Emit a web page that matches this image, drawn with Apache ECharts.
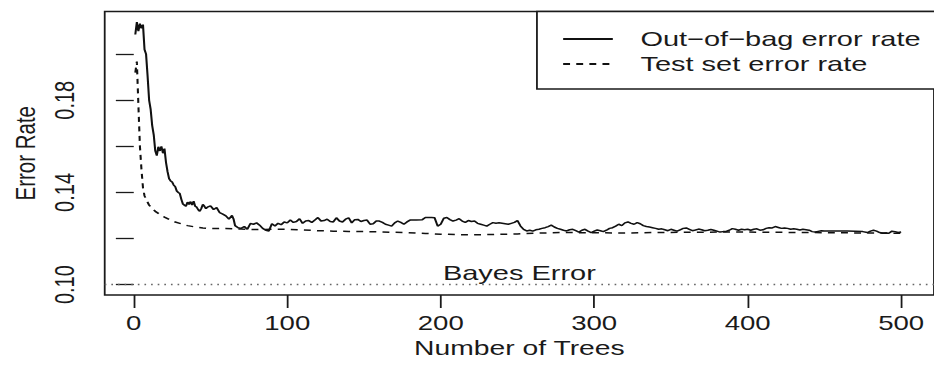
<!DOCTYPE html>
<html>
<head>
<meta charset="utf-8">
<script src="https://cdn.jsdelivr.net/npm/echarts@6/dist/echarts.min.js"></script>
<style>
html,body{margin:0;padding:0;background:#fff;overflow:hidden;width:934px;height:365px;}
#c{width:677px;height:365px;transform:scaleX(1.3796);transform-origin:0 0;}
</style>
</head>
<body>
<div id="c"></div>
<script>
// ---- data ----
const oobTrees = [1,2,3,4,5,6,7,8,9,10,11,12,13,14,15,16,17,18,19,20,21,22,23,24,25,26,27,28,29,30,31,32,33,34,35,36,37,38,39,40,41,42,43,44,45,46,47,48,50,52,54,56,58,60,62,64,65,66,68,70,72,74,76,78,80,82,84,86,88,90,92,94,96,98,100,102,104,106,108,110,112,114,116,118,120,122,124,126,128,130,132,134,136,138,140,142,144,146,148,150,152,154,156,158,160,162,164,166,168,170,172,174,176,178,180,184,188,190,194,196,198,200,202,204,206,208,210,212,214,216,218,220,222,224,226,228,230,232,234,236,238,240,242,244,246,248,250,252,254,256,258,260,262,264,266,268,270,272,274,276,278,280,282,284,286,288,290,292,294,296,298,300,302,304,306,308,310,312,314,316,318,320,322,324,326,328,330,332,334,336,338,340,342,344,346,348,350,352,354,356,358,360,362,364,366,368,370,372,374,376,378,380,382,384,386,388,390,392,394,396,398,400,402,404,406,408,410,412,414,416,418,420,422,424,426,428,430,432,434,436,438,440,442,444,446,448,450,455,460,465,470,475,478,480,482,484,486,488,490,492,494,496,498,500];
const oobError = [0.2085,0.2139,0.2100,0.2132,0.2112,0.2128,0.2020,0.2000,0.1905,0.1800,0.1760,0.1690,0.1650,0.1580,0.1560,0.1598,0.1580,0.1600,0.1570,0.1590,0.1530,0.1490,0.1460,0.1450,0.1445,0.1432,0.1425,0.1406,0.1400,0.1395,0.1370,0.1350,0.1345,0.1340,0.1358,0.1348,0.1360,0.1345,0.1362,0.1340,0.1336,0.1325,0.1318,0.1330,0.1348,0.1340,0.1330,0.1336,0.1342,0.1326,0.1334,0.1312,0.1306,0.1298,0.1284,0.1300,0.1285,0.1256,0.1247,0.1244,0.1252,0.1240,0.1265,0.1262,0.1268,0.1258,0.1244,0.1236,0.1233,0.1264,0.1254,0.1266,0.1260,0.1272,0.1268,0.1280,0.1270,0.1274,0.1286,0.1266,0.1276,0.1278,0.1270,0.1280,0.1291,0.1276,0.1278,0.1284,0.1274,0.1272,0.1290,0.1276,0.1272,0.1284,0.1290,0.1268,0.1282,0.1283,0.1274,0.1278,0.1280,0.1262,0.1264,0.1276,0.1276,0.1270,0.1262,0.1258,0.1254,0.1268,0.1276,0.1270,0.1262,0.1272,0.1280,0.1280,0.1282,0.1291,0.1291,0.1290,0.1254,0.1262,0.1288,0.1291,0.1282,0.1276,0.1280,0.1286,0.1276,0.1270,0.1278,0.1274,0.1276,0.1266,0.1262,0.1258,0.1254,0.1262,0.1269,0.1266,0.1268,0.1266,0.1264,0.1262,0.1266,0.1270,0.1278,0.1254,0.1240,0.1233,0.1236,0.1232,0.1238,0.1240,0.1244,0.1247,0.1252,0.1258,0.1250,0.1244,0.1240,0.1236,0.1233,0.1238,0.1240,0.1234,0.1228,0.1236,0.1240,0.1232,0.1226,0.1232,0.1237,0.1234,0.1230,0.1236,0.1244,0.1247,0.1254,0.1262,0.1256,0.1268,0.1272,0.1266,0.1262,0.1269,0.1264,0.1256,0.1252,0.1250,0.1247,0.1244,0.1240,0.1242,0.1238,0.1234,0.1240,0.1236,0.1232,0.1238,0.1244,0.1246,0.1240,0.1234,0.1237,0.1241,0.1238,0.1234,0.1236,0.1239,0.1236,0.1232,0.1228,0.1230,0.1231,0.1236,0.1243,0.1240,0.1236,0.1240,0.1238,0.1240,0.1236,0.1240,0.1242,0.1236,0.1238,0.1244,0.1247,0.1246,0.1252,0.1248,0.1244,0.1246,0.1244,0.1240,0.1242,0.1240,0.1237,0.1240,0.1238,0.1236,0.1230,0.1228,0.1231,0.1234,0.1233,0.1233,0.1233,0.1233,0.1232,0.1230,0.1226,0.1232,0.1236,0.1232,0.1226,0.1223,0.1224,0.1223,0.1232,0.1230,0.1226,0.1228];

const testTrees = [1,2,3,4,5,6,7,8,10,12,14,17,20,23,26,30,35,40,45,50,55,60,70,80,90,100,110,120,130,140,150,160,175,190,200,210,220,235,250,265,280,300,320,340,360,380,400,420,440,460,480,500];
const testError = [0.1920,0.1968,0.1780,0.1600,0.1500,0.1420,0.1385,0.1370,0.1345,0.1330,0.1318,0.1305,0.1293,0.1283,0.1274,0.1266,0.1256,0.1250,0.1246,0.1243,0.1243,0.1244,0.1241,0.1239,0.1240,0.1240,0.1237,0.1234,0.1232,0.1231,0.1230,0.1229,0.1226,0.1222,0.1219,0.1217,0.1216,0.1218,0.1220,0.1224,0.1226,0.1225,0.1224,0.1226,0.1227,0.1228,0.1228,0.1227,0.1226,0.1225,0.1224,0.1223];

const bayesError = 0.10;
const xTicks = [0,100,200,300,400,500];
const yTicks = [0.10,0.12,0.14,0.16,0.18,0.20];
const yTickLabels = [0.10,0.14,0.18];
const seriesNames = ['Out\u2212of\u2212bag error rate', 'Test set error rate'];

// ---- chart ----
const FONT = 'Liberation Sans';
const INK = '#1a1a1a';
const chart = echarts.init(document.getElementById('c'), null, {renderer: 'svg'});
const pairs = (xs, ys) => xs.map((x, i) => [x, ys[i]]);

chart.setOption({
  animation: false,
  backgroundColor: '#fff',
  textStyle: {fontFamily: FONT, color: INK},
  grid: {left: 73.7, right: -3, top: 11.5, bottom: 70, show: true,
         borderColor: INK, borderWidth: 1.3, backgroundColor: 'transparent'},
  xAxis: {
    type: 'value', min: -18.94, max: 521.4,
    axisLine: {show: false},
    splitLine: {show: false},
    axisTick: {show: true, inside: false, length: 13, customValues: xTicks,
               lineStyle: {color: INK, width: 1.3}},
    axisLabel: {show: true, customValues: xTicks, fontSize: 20, lineHeight: 20,
                margin: 17.5, color: INK, fontFamily: FONT},
    name: 'Number of Trees', nameLocation: 'middle', nameGap: 41,
    nameTextStyle: {fontSize: 20.5, lineHeight: 21, color: INK, fontFamily: FONT}
  },
  yAxis: {
    type: 'value', min: 0.0955, max: 0.2185,
    axisLine: {show: false},
    splitLine: {show: false},
    axisTick: {show: true, inside: false, length: 13, customValues: yTicks,
               lineStyle: {color: INK, width: 1.3}},
    axisLabel: {show: true, customValues: yTickLabels, rotate: 90, fontSize: 20,
                lineHeight: 20, margin: 19, color: INK, fontFamily: FONT,
                formatter: v => v.toFixed(2)},
    name: 'Error Rate', nameLocation: 'middle', nameRotate: 90, nameGap: 46,
    nameTextStyle: {fontSize: 20.5, lineHeight: 21, color: INK, fontFamily: FONT}
  },
  legend: {
    orient: 'vertical', left: 389.2, top: 11.5,
    padding: [15, 20, 12.5, 18], itemGap: 0,
    itemWidth: 36, itemHeight: 2,
    itemStyle: {opacity: 0},
    borderColor: INK, borderWidth: 1.3, backgroundColor: '#fff',
    textStyle: {fontSize: 21, lineHeight: 25, color: INK, fontFamily: FONT,
                padding: [0, 0, 0, 15]},
    data: seriesNames
  },
  series: [
    {
      name: seriesNames[0], type: 'line', data: pairs(oobTrees, oobError),
      showSymbol: false, symbol: 'none', silent: true,
      lineStyle: {color: '#111', width: 1.5},
      itemStyle: {color: '#111'},
      markLine: {
        silent: true, symbol: ['none', 'none'],
        data: [{yAxis: bayesError}],
        lineStyle: {color: '#666', width: 1.3, type: [1.2, 3.6]},
        label: {show: true, position: 'middle', formatter: 'Bayes Error',
                fontSize: 21, color: INK, fontFamily: FONT, distance: 2}
      }
    },
    {
      name: seriesNames[1], type: 'line', data: pairs(testTrees, testError),
      showSymbol: false, symbol: 'none', silent: true, smooth: false,
      lineStyle: {color: '#111', width: 1.5, type: [5, 4.5]},
      itemStyle: {color: '#111'}
    }
  ]
});
</script>
</body>
</html>
